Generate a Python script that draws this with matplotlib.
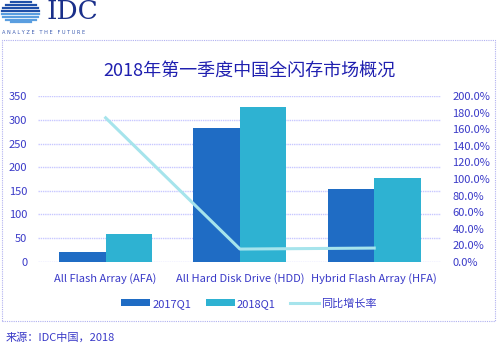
import matplotlib
matplotlib.use("Agg")
import matplotlib.pyplot as plt
import numpy as np
from matplotlib.patches import Rectangle

plt.rcParams['font.family'] = ['Noto Sans CJK SC', 'DejaVu Sans']

categories = ['All Flash Array (AFA)', 'All Hard Disk Drive (HDD)', 'Hybrid Flash Array (HFA)']
q1_2017 = [21, 284, 153]
q1_2018 = [58, 328, 178]
growth = [174.0, 15.3, 16.5]   # percent

left_ticks = [0, 50, 100, 150, 200, 250, 300, 350]
right_ticks = [0, 20, 40, 60, 80, 100, 120, 140, 160, 180, 200]

text_blue = '#3a3ac8'
c2017 = '#1f6cc4'
c2018 = '#2eb2d2'
cline = '#a6e4ec'
grid_c = '#c8c8ff'

fig = plt.figure(figsize=(4.98, 3.46), dpi=100)

# dotted frame around the chart
frame = Rectangle((0.004, 0.072), 0.99, 0.812, transform=fig.transFigure,
                  fill=False, edgecolor='#b0b0f0', linestyle=(0, (1, 1)), linewidth=0.8)
fig.patches.append(frame)

# IDC logo (simplified)
fig.text(0.094, 0.968, 'IDC', fontsize=19, color='#1a2f8a', family='DejaVu Serif',
         ha='left', va='center')
fig.text(0.004, 0.905, 'A N A L Y Z E   T H E   F U T U R E', fontsize=3.6, color='#3a5ab0',
         ha='left', va='center', family='DejaVu Sans')
rows = np.linspace(0.995, 0.935, 8)
for i, yy in enumerate(rows):
    t = (i - 3.5) / 4.2
    w = 0.075 * np.sqrt(max(0.0, 1 - t * t))
    fig.add_artist(plt.Line2D([0.042 - w / 2, 0.042 + w / 2], [yy, yy], transform=fig.transFigure,
                              color='#1f4fa8' if i < 4 else '#5a9ee0', linewidth=1.6))

ax = fig.add_axes([0.0773, 0.2436, 0.809, 0.478])
x = np.arange(len(categories))
bw = 0.346
ax.bar(x - bw / 2, q1_2017, bw, color=c2017, label='2017Q1', zorder=3)
ax.bar(x + bw / 2, q1_2018, bw, color=c2018, label='2018Q1', zorder=3)
ax.set_xlim(-0.5, 2.5)
ax.set_ylim(0, 350)
ax.set_yticks(left_ticks)
ax.set_xticks(x)
ax.set_xticklabels(categories)
ax.yaxis.grid(True, color=grid_c, linestyle=(0, (1, 0.6)), linewidth=1.0, zorder=0)
ax.tick_params(axis='both', length=0, labelsize=8, labelcolor=text_blue)
ax.tick_params(axis='x', pad=8)
ax.tick_params(axis='y', pad=8)
for s in ax.spines.values():
    s.set_visible(False)

ax2 = ax.twinx()
ax2.plot(x, growth, color=cline, linewidth=2.2, label='同比增长率', zorder=4)
ax2.set_ylim(0, 200)
ax2.set_yticks(right_ticks)
ax2.set_yticklabels([f'{t:.1f}%' for t in right_ticks])
ax2.tick_params(axis='y', length=0, labelsize=8, labelcolor=text_blue, pad=8)
for s in ax2.spines.values():
    s.set_visible(False)

fig.text(0.5, 0.797, '2018年第一季度中国全闪存市场概况', fontsize=13, color='#2020b0',
         ha='center', va='center')

h1, l1 = ax.get_legend_handles_labels()
h2, l2 = ax2.get_legend_handles_labels()
fig.legend(h1 + h2, l1 + l2, loc='center', bbox_to_anchor=(0.5, 0.123), ncol=3,
           frameon=False, fontsize=8, labelcolor=text_blue, handlelength=2.6,
           handleheight=0.6, columnspacing=1.3, handletextpad=0.2)

fig.text(0.012, 0.025, '来源：IDC中国，2018', fontsize=8, color=text_blue,
         ha='left', va='center')

fig.savefig('out.png', dpi=100)
